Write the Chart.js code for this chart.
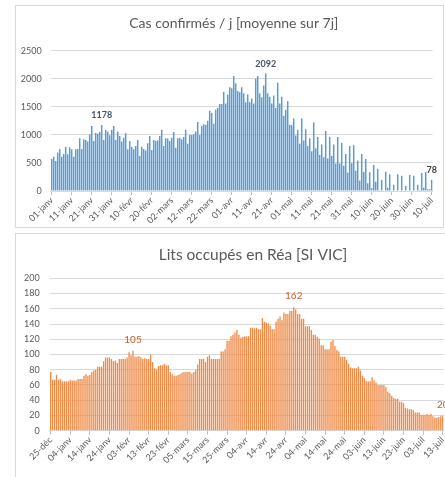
<!DOCTYPE html>
<html>
<head>
<meta charset="utf-8">
<script src="https://cdn.jsdelivr.net/npm/chart.js@4"></script>
<style>
  html, body { margin: 0; padding: 0; background: #fff; overflow: hidden; }
  .panel { position: absolute; border: 1px solid #d9d9d9; box-sizing: border-box; background: #fff; }
  .panel canvas { position: absolute; left: -1px; top: -1px; }
</style>
</head>
<body>
<div class="panel" style="left:15px;top:5px;width:429px;height:223px">
  <canvas id="chart_cas" width="429" height="223"></canvas>
</div>
<div class="panel" style="left:15px;top:233px;width:475px;height:260px">
  <canvas id="chart_rea" width="475" height="260"></canvas>
</div>
<script>
// Cas confirmés, one value per day from 01-janv to 10-juil
const casValues = [
  570, 610, 535, 685, 750, 610, 660, 790, 655, 780,
  745, 610, 745, 750, 940, 750, 920, 910, 880, 1005,
  1160, 890, 1035, 1020, 1050, 1178, 910, 1090, 1060, 995,
  1090, 1160, 910, 1060, 980, 880, 950, 1030, 745, 890,
  790, 745, 800, 910, 625, 790, 750, 720, 850, 980,
  730, 910, 890, 900, 980, 1090, 800, 940, 935, 890,
  950, 1050, 770, 940, 950, 920, 960, 1090, 840, 1000,
  1000, 1010, 1060, 1230, 1000, 1160, 1190, 1180, 1250, 1430,
  1390, 1200, 1450, 1480, 1550, 1550, 1770, 1560, 1720, 1850,
  1830, 2050, 1920, 1780, 1760, 1850, 1740, 1580, 1720, 1580,
  1650, 1560, 2000, 2050, 1740, 1670, 1880, 2092, 1740, 1680,
  1560, 1700, 1480, 1930, 1560, 1680, 1340, 1450, 1600, 1180,
  1170, 1290, 990, 1090, 840, 1290, 900, 1100, 800, 940,
  710, 1220, 760, 960, 640, 830, 600, 1070, 580, 960,
  625, 830, 490, 960, 490, 860, 450, 660, 330, 800,
  495, 815, 360, 545, 185, 660, 340, 570, 140, 335,
  50, 465, 165, 395, 5, 195, 0, 345, 60, 300,
  10, 110, 10, 300, 10, 270, 10, 90, 10, 285,
  10, 270, 10, 110, 20, 320, 60, 340, 30, 30, 200
];
const casTicks = ['01-janv', '11-janv', '21-janv', '31-janv', '10-févr', '20-févr', '02-mars',
  '12-mars', '22-mars', '01-avr', '11-avr', '21-avr', '01-mai', '11-mai', '21-mai', '31-mai',
  '10-juin', '20-juin', '30-juin', '10-juil'];
const casLabelIdx = [25, 107, 190];
const casLabelTxt = ['1178', '2092', '78'];
const casLabelColor = ['#44546a', '#44546a', '#404040'];

// Lits occupés en réa, one value per day from 25-déc to 13-juil
const reaValues = [
  77, 67, 67, 73, 67, 68, 65, 65, 65, 65,
  67, 66, 66, 66, 68, 68, 68, 72, 74, 72,
  73, 77, 79, 80, 84, 84, 84, 91, 96, 96,
  96, 94, 91, 92, 89, 94, 94, 94, 94, 96,
  103, 99, 105, 97, 97, 98, 96, 94, 95, 94,
  94, 100, 90, 82, 80, 85, 86, 86, 88, 86,
  86, 77, 74, 72, 72, 73, 74, 76, 77, 77,
  77, 77, 75, 77, 80, 87, 94, 94, 94, 90,
  97, 99, 94, 94, 94, 94, 94, 104, 104, 107,
  118, 118, 124, 126, 129, 132, 126, 122, 123, 124,
  124, 124, 135, 135, 134, 135, 133, 133, 148, 143,
  142, 141, 138, 133, 133, 143, 147, 150, 145, 155,
  153, 153, 157, 157, 162, 159, 153, 153, 147, 147,
  137, 137, 137, 132, 126, 126, 123, 121, 112, 112,
  107, 107, 107, 117, 119, 111, 106, 104, 97, 97,
  97, 93, 88, 83, 82, 82, 82, 84, 79, 72,
  69, 65, 65, 65, 70, 66, 63, 60, 60, 60,
  60, 57, 51, 49, 46, 43, 42, 42, 38, 38,
  36, 30, 29, 28, 28, 27, 24, 24, 24, 21,
  21, 21, 22, 21, 22, 19, 17, 17, 18, 19, 20
];
const reaTicks = ['25-déc', '04-janv', '14-janv', '24-janv', '03-févr', '13-févr', '23-févr',
  '05-mars', '15-mars', '25-mars', '04-avr', '14-avr', '24-avr', '04-mai', '14-mai', '24-mai',
  '03-juin', '13-juin', '23-juin', '03-juil', '13-juil'];
const reaLabelIdx = [42, 124, 200];
const reaLabelTxt = ['105', '162', '20'];
const reaLabelColor = ['#c0622b', '#c0622b', '#c0622b'];

const FONT = 'Lato, "Open Sans", sans-serif';

// title + value labels drawn on the canvas
const extraText = {
  id: 'extraText',
  afterDatasetsDraw(chart, args, opts) {
    const ctx = chart.ctx;
    const meta = chart.getDatasetMeta(0);
    ctx.save();
    ctx.textAlign = 'center';
    ctx.textBaseline = 'middle';
    ctx.fillStyle = '#595959';
    ctx.font = opts.titleFont;
    ctx.fillText(opts.title, opts.titleX, opts.titleY);
    ctx.font = opts.labelFont;
    opts.indices.forEach((idx, k) => {
      const bar = meta.data[idx];
      ctx.fillStyle = opts.colors[k];
      ctx.fillText(opts.texts[k], bar.x, bar.y - opts.gap);
    });
    ctx.restore();
  }
};

function buildChart(id, values, ticks, cfg) {
  return new Chart(document.getElementById(id), {
    type: 'bar',
    data: {
      labels: values.map((v, i) => i),
      datasets: [{
        data: values,
        backgroundColor: cfg.color,
        borderWidth: 0,
        barPercentage: cfg.barPct,
        categoryPercentage: 1
      }]
    },
    plugins: [extraText],
    options: {
      responsive: false,
      animation: false,
      layout: { padding: cfg.padding },
      scales: {
        x: {
          offset: true,
          grid: {
            display: true,
            offset: false,
            drawOnChartArea: false,
            drawTicks: true,
            tickLength: 4,
            color: (c) => (c.index % 10 === 0 ? '#bfbfbf' : 'rgba(0,0,0,0)')
          },
          border: { display: true, color: '#d9d9d9' },
          ticks: {
            autoSkip: false,
            maxRotation: 45,
            minRotation: 45,
            padding: 0,
            color: '#595959',
            font: { family: FONT, size: 9 },
            callback: (v, i) => (i % 10 === 0 ? ticks[i / 10] : '')
          },
          afterFit: (s) => { s.height = cfg.xHeight; }
        },
        y: {
          min: 0,
          max: cfg.yMax,
          ticks: {
            stepSize: cfg.yStep,
            padding: cfg.yPad,
            color: '#595959',
            font: { family: FONT, size: 9 },
            callback: (v) => String(v)
          },
          grid: { color: '#d9d9d9', drawTicks: false },
          border: { display: false },
          afterFit: (s) => { s.width = cfg.yWidth; }
        }
      },
      plugins: {
        legend: { display: false },
        tooltip: { enabled: false },
        extraText: cfg.text
      }
    }
  });
}

buildChart('chart_cas', casValues, casTicks, {
  color: '#5b9bd5',
  barPct: 0.75,
  padding: { top: 45.7, right: 11.3, left: 0, bottom: 0 },
  xHeight: 37,
  yWidth: 35.7,
  yMax: 2500,
  yStep: 500,
  yPad: 9,
  text: {
    title: 'Cas confirmés / j [moyenne sur 7j]',
    titleX: 218.8, titleY: 18,
    titleFont: '14px ' + FONT,
    labelFont: 'bold 9px ' + FONT,
    indices: casLabelIdx, texts: casLabelTxt, colors: casLabelColor,
    gap: 10
  }
});

buildChart('chart_rea', reaValues, reaTicks, {
  color: '#ef8a46',
  barPct: 0.68,
  padding: { top: 45.3, right: 46.3, left: 0, bottom: 0 },
  xHeight: 62.3,
  yWidth: 34.7,
  yMax: 200,
  yStep: 20,
  yPad: 10,
  text: {
    title: 'Lits occupés en Réa [SI VIC]',
    titleX: 238, titleY: 22,
    titleFont: '15.5px ' + FONT,
    labelFont: '10px ' + FONT,
    indices: reaLabelIdx, texts: reaLabelTxt, colors: reaLabelColor,
    gap: 11
  }
});
</script>
</body>
</html>
